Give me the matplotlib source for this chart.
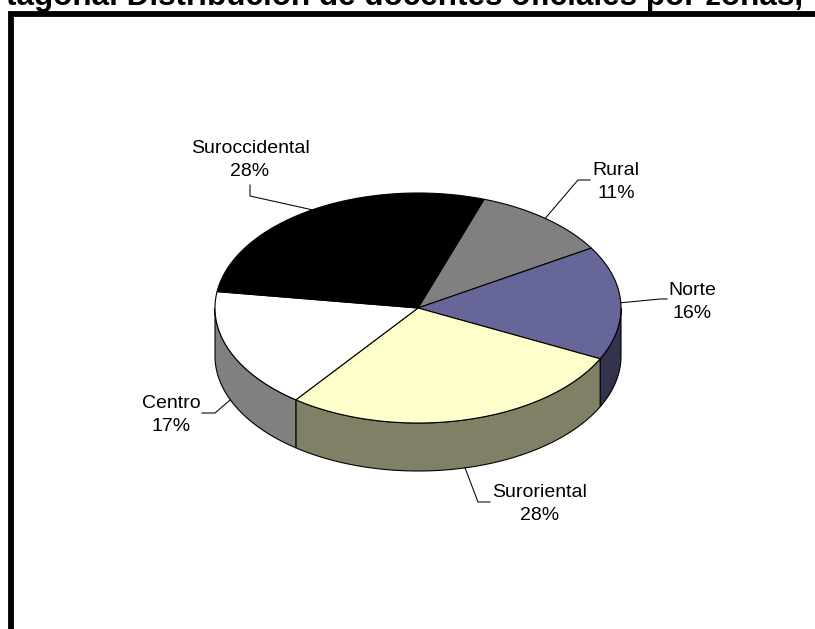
import numpy as np
import matplotlib.pyplot as plt
from matplotlib.patches import Polygon
from matplotlib.colors import to_rgb

# ── Data ─────────────────────────────────────────────────────────────────────
zonas = ["Rural", "Norte", "Suroriental", "Centro", "Suroccidental"]
porcentajes = [11, 16, 28, 17, 28]
colores = ["#808080", "#666699", "#FFFFCC", "#FFFFFF", "#000000"]
titulo = "tagonal Distribución de docentes oficiales por zonas,"

# ── Layout (pixel space) ─────────────────────────────────────────────────────
CX, CY, RX, RY, DEPTH = 418, 308, 203, 115, 48
START = 71  # degrees, slices go clockwise
label_pos = [(616, 175), (692, 295), (540, 497), (171, 408), (250, 153)]
elbows = [[(578, 180), (590, 180)], [(660, 299), (667, 299)],
          [(478, 502), (490, 502)], [(215, 413), (202, 413)],
          [(250, 196), (250, 185)]]

FONT = "Liberation Sans"


def ellipse_pts(t0, t1, dz=0, n=120):
    t = np.radians(np.linspace(t0, t1, n))
    return np.column_stack([CX + RX * np.cos(t), CY - RY * np.sin(t) + dz])


fig = plt.figure(figsize=(8.15, 6.29), dpi=100)
ax = fig.add_axes([0, 0, 1, 1])
ax.set_xlim(0, 815)
ax.set_ylim(629, 0)
ax.axis("off")

bounds = START - 3.6 * np.concatenate([[0], np.cumsum(porcentajes)])

# ── Sides (front half only) ──────────────────────────────────────────────────
for i, col in enumerate(colores):
    hi, lo = bounds[i], bounds[i + 1]
    for shift in (0, -360, 360):
        a, b = max(lo + shift, -180), min(hi + shift, 0)
        if a < b:
            top = ellipse_pts(a, b)
            bot = ellipse_pts(b, a, DEPTH)
            side = np.array(to_rgb(col)) * 0.5
            ax.add_patch(Polygon(np.vstack([top, bot]), closed=True, facecolor=side,
                                 edgecolor="black", linewidth=0.8, zorder=2))

# ── Top faces ────────────────────────────────────────────────────────────────
for i, col in enumerate(colores):
    hi, lo = bounds[i], bounds[i + 1]
    pts = np.vstack([[CX, CY], ellipse_pts(hi, lo)])
    ax.add_patch(Polygon(pts, closed=True, facecolor=col, edgecolor="black",
                         linewidth=0.8, zorder=3))

# ── Labels with leader lines ─────────────────────────────────────────────────
for i, (zona, pct) in enumerate(zip(zonas, porcentajes)):
    mid = (bounds[i] + bounds[i + 1]) / 2
    dz = DEPTH if np.sin(np.radians(mid)) < 0 else 0
    ax_pt = ellipse_pts(mid, mid, dz, n=1)[0]
    xs = [ax_pt[0]] + [p[0] for p in elbows[i]]
    ys = [ax_pt[1]] + [p[1] for p in elbows[i]]
    ax.plot(xs, ys, color="black", linewidth=0.75, zorder=4)
    lx, ly = label_pos[i]
    ax.text(lx, ly, zona, ha="center", va="baseline", fontsize=14, family=FONT)
    ax.text(lx, ly + 23, f"{pct}%", ha="center", va="baseline", fontsize=14, family=FONT)

# ── Frame and clipped title ──────────────────────────────────────────────────
ax.plot([11, 11, 830], [640, 13.5, 13.5], color="black", linewidth=4.2,
        solid_joinstyle="miter", clip_on=False, zorder=5)
ax.text(803, 5, titulo, ha="right", va="baseline", fontsize=22.6,
        fontweight="bold", family=FONT)

fig.savefig("out.png", dpi=100)
